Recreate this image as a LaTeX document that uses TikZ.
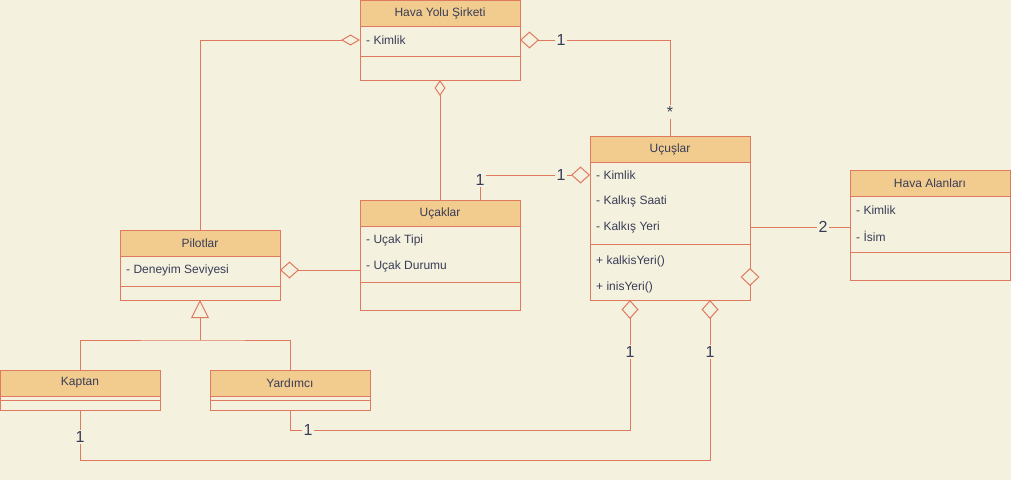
\documentclass[tikz,border=0pt]{standalone}
\usepackage{fontspec}
\setmainfont{Liberation Sans}
\usetikzlibrary{arrows.meta,shapes.geometric}
\definecolor{bg}{HTML}{F4F1DE}
\definecolor{lc}{HTML}{E07A5F}
\definecolor{hf}{HTML}{F2CC8F}
\definecolor{tc}{HTML}{393C56}
\tikzset{
  cls/.style={rectangle, draw=lc, fill=bg, line width=1pt, minimum width=160pt, inner sep=0pt, outer sep=0pt},
  hdr/.style={rectangle, draw=lc, fill=hf, line width=1pt, minimum width=160pt, minimum height=26pt, inner sep=0pt, outer sep=0pt, text=tc, font=\fontsize{12}{14}\selectfont},
  attr/.style={anchor=west, inner sep=0pt, text=tc, font=\fontsize{12}{14}\selectfont},
  sepline/.style={draw=lc, line width=1pt},
  conn/.style={draw=lc, line width=1pt},
  lbl/.style={fill=bg, inner sep=1.5pt, text=tc, font=\fontsize{16}{18}\selectfont},
  aggS/.style={{Diamond[open, length=19pt, width=11pt]}-},
  aggB/.style={{Diamond[open, length=19pt, width=17pt]}-},
  aggV/.style={{Diamond[open, length=16pt, width=11pt]}-},
  inhTip/.style={-{Triangle[open, length=18pt, width=18pt]}},
}
\begin{document}
\begin{tikzpicture}[x=1pt,y=-1pt]
\useasboundingbox[fill=bg] (0,0) rectangle (1011,480);

% ---------- classes ----------
% Hava Yolu Sirketi
\node[cls, minimum height=80pt] (hy) at (440,40) {};
\node[hdr] (hyh) at (440,13) {Hava Yolu Şirketi};
\draw[sepline] ([yshift=-56pt]hy.north west) -- ([yshift=-56pt]hy.north east);
\node[attr] (hya1) at (366,40) {- Kimlik};

% Ucuslar
\node[cls, minimum height=164pt] (uc) at (670,218) {};
\node[hdr] (uch) at (670,149) {Uçuşlar};
\draw[sepline] ([yshift=-108pt]uc.north west) -- ([yshift=-108pt]uc.north east);
\node[attr] (uca1) at (596,175) {- Kimlik};
\node[attr] (uca2) at (596,201) {- Kalkış Saati};
\node[attr] (uca3) at (596,227) {- Kalkış Yeri};
\node[attr] (ucm1) at (596,261) {+ kalkisYeri()};
\node[attr] (ucm2) at (596,287) {+ inisYeri()};

% Hava Alanlari
\node[cls, minimum height=110pt] (ha) at (930,225) {};
\node[hdr] (hah) at (930,183) {Hava Alanları};
\draw[sepline] ([yshift=-82pt]ha.north west) -- ([yshift=-82pt]ha.north east);
\node[attr] (haa1) at (856,210) {- Kimlik};
\node[attr] (haa2) at (856,236) {- İsim};

% Pilotlar
\node[cls, minimum height=70pt] (pil) at (200,265) {};
\node[hdr] (pilh) at (200,243) {Pilotlar};
\draw[sepline] ([yshift=-56pt]pil.north west) -- ([yshift=-56pt]pil.north east);
\node[attr] (pila1) at (126,270) {- Deneyim Seviyesi};

% Ucaklar
\node[cls, minimum height=110pt] (uck) at (440,255) {};
\node[hdr] (uckh) at (440,213) {Uçaklar};
\draw[sepline] ([yshift=-82pt]uck.north west) -- ([yshift=-82pt]uck.north east);
\node[attr] (ucka1) at (366,240) {- Uçak Tipi};
\node[attr] (ucka2) at (366,266) {- Uçak Durumu};

% Kaptan
\node[cls, minimum height=40pt] (kap) at (80,390) {};
\node[hdr] (kaph) at (80,383) {Kaptan};
\draw[sepline] ([yshift=-30pt]kap.north west) -- ([yshift=-30pt]kap.north east);

% Yardimci
\node[cls, minimum height=40pt] (yar) at (290,390) {};
\node[hdr] (yarh) at (290,383) {Yardımcı};
\draw[sepline] ([yshift=-30pt]yar.north west) -- ([yshift=-30pt]yar.north east);

% ---------- connectors ----------
% Hava Yolu -- Pilotlar
\draw[conn, aggS] (hy.west) -| (pil.north);
% Hava Yolu -- Ucuslar
\draw[conn, aggB] (hy.east) -| (uc.north);
\node[lbl] (l1) at (561,40) {1};
\node[lbl] (l2) at (670,112) {*};
% Hava Yolu -- Ucaklar
\draw[conn, aggV] (hy.south) -- (uck.north);
% Ucaklar -- Ucuslar
\draw[conn, aggB] ([yshift=-39pt]uc.north west) -| ([xshift=120pt]uck.north west);
\node[lbl] (l3) at (480,180) {1};
\node[lbl] (l4) at (561,175) {1};
% Pilotlar -- Ucaklar
\draw[conn, aggB] ([yshift=-40pt]pil.north east) -- ([yshift=-70pt]uck.north west);
% Ucuslar -- Hava Alanlari
\draw[conn] ([yshift=-91pt]uc.north east) -- ([yshift=-57pt]ha.north west);
\node[lbl] (l5) at (823,227) {2};
\node[diamond, draw=lc, fill=bg, line width=1pt, minimum width=18pt, minimum height=17pt, inner sep=0pt] (dmd) at (750,277) {};
% Ucuslar -- Yardimci
\draw[conn, aggB] ([xshift=40pt]uc.south west) |- ([yshift=-20pt]yar.south) -- (yar.south);
\node[lbl] (l6) at (630,352) {1};
\node[lbl] (l7) at (308,430) {1};
% Ucuslar -- Kaptan
\draw[conn, aggB] ([xshift=120pt]uc.south west) |- ([yshift=-50pt]kap.south) -- (kap.south);
\node[lbl] (l8) at (710,352) {1};
\node[lbl] (l9) at (80,437) {1};
% Inheritance
\coordinate (inh) at (200,340);
\draw[conn] (kap.north) |- (inh) -| (yar.north);
\draw[conn, inhTip] (inh) -- (pil.south);
\end{tikzpicture}
\end{document}
